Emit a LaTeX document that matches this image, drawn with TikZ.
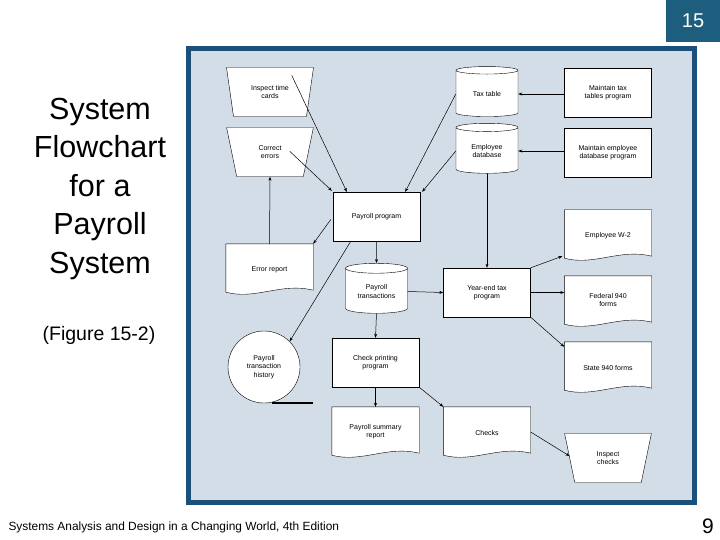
\documentclass[tikz,border=0pt]{standalone}
\usepackage{fontspec}
\setmainfont{Liberation Sans}
\usetikzlibrary{shapes.geometric,arrows.meta,calc}
\definecolor{frame}{HTML}{1B4F7C}
\definecolor{panel}{HTML}{D3DDE8}
\definecolor{tabc}{HTML}{1D5E7E}
\tikzset{
  x=1pt,y=-1pt,
  lbl/.style={font=\fontsize{7}{8.2}\selectfont,align=center},
  proc/.style={lbl,draw,fill=white,rectangle,minimum width=87,minimum height=49,inner sep=1pt},
  doc/.style={lbl,rectangle,minimum width=87,minimum height=52,inner sep=1pt},
  db/.style={lbl,draw,fill=white,cylinder,shape border rotate=90,aspect=0.25,minimum width=62,minimum height=50,inner sep=1pt},
  man/.style={lbl,draw,fill=white,trapezium,shape border rotate=180,trapezium left angle=76,trapezium right angle=76,trapezium stretches=true,minimum width=87,minimum height=49,inner sep=1pt},
  arr/.style={-{Stealth[length=4pt,width=3pt]},line width=0.5pt},
}
\newcommand\docout[1]{%
  \fill[white,draw=black] (#1.north west) -- (#1.north east) -- ($(#1.south east)+(0,-6)$)
    .. controls ($(#1.south)+(12,-14)$) and ($(#1.south)+(-14,4)$) .. ($(#1.south west)+(0,-4)$) -- cycle;}
\begin{document}
\begin{tikzpicture}
\useasboundingbox (0,0) rectangle (720,540);
\fill[white] (0,0) rectangle (720,540);
% tab and side texts
\fill[tabc] (666,0) rectangle (720,42);
\node[text=white,font=\fontsize{20}{24}\selectfont] (num) at (693,21) {15};
\node[align=center,font=\fontsize{30.5}{38.5}\selectfont] (title) at (100,189) {System\\Flowchart\\for a\\Payroll\\System};
\node[font=\fontsize{19.5}{22}\selectfont] (fig) at (99,335) {(Figure 15-2)};
\node[anchor=west,font=\fontsize{11.9}{14}\selectfont] (foot) at (5,527) {Systems Analysis and Design in a Changing World, 4th Edition};
\node[font=\fontsize{21}{24}\selectfont] (page) at (708,526) {9};
% panel
\fill[frame] (186,46) rectangle (697,505);
\fill[panel] (191,51) rectangle (692,500);
% nodes
\node[man] (itc) at (270,92) {Inspect time\\cards};
\node[man] (ce) at (270,152) {Correct\\errors};
\node[db] (tax) at (487,94) {Tax table};
\node[db] (emp) at (487,151) {Employee\\database};
\node[proc] (mtt) at (608,93) {Maintain tax\\tables program};
\node[proc] (med) at (608,153) {Maintain employee\\database program};
\node[proc] (pp) at (376.5,216.5) {Payroll program};
\node[doc] (er) at (269.5,270) {}; \docout{er}
\node[lbl] at (269.5,270) {Error report};
\node[doc] (w2) at (608,236) {}; \docout{w2}
\node[lbl] at (608,236) {Employee W-2};
\node[proc] (ye) at (487,292.5) {Year-end tax\\program};
\node[db] (pt) at (376.5,291.5) {Payroll\\transactions};
\node[doc] (fed) at (608,302) {}; \docout{fed}
\node[lbl] at (608,300) {Federal 940\\forms};
\node[proc] (cp) at (375.5,362.5) {Check printing\\program};
\node[doc] (st) at (608,368) {}; \docout{st}
\node[lbl] at (608,368) {State 940 forms};
\node[lbl,draw,fill=white,circle,minimum size=72] (hist) at (264,367) {Payroll\\transaction\\history};
\coordinate (hl) at (272,403);
\coordinate (hr) at (313,403);
\draw[line width=1.3pt] (hl) -- (hr);
\node[doc] (ps) at (375.5,433) {}; \docout{ps}
\node[lbl] at (375.5,432) {Payroll summary\\report};
\node[doc] (chk) at (487,433) {}; \docout{chk}
\node[lbl] at (487,433) {Checks};
\node[man] (ic) at (608,458) {Inspect\\checks};
% connectors
\draw[arr] ($(itc.north east)+(-3,8)$) -- ($(pp.north west)+(14,0)$);
\draw[arr] ($(ce.north east)+(-5,24)$) -- ($(pp.north west)+(-1,-1)$);
\draw[arr] (tax.west) -- ($(pp.north east)+(-15,0)$);
\draw[arr] (emp.west) -- ($(pp.north east)+(2,0)$);
\draw[arr] (mtt.west |- tax.east) -- (tax.east);
\draw[arr] (med.west |- emp.east) -- (emp.east);
\draw[arr] (emp.south) -- (ye.north);
\draw[arr] ($(pp.west)+(-2,3)$) -- (er.north east);
\draw[arr] (er.north) -- (ce.south);
\draw[arr] ($(pp.south west)+(18,0)$) -- (hist.north east);
\draw[arr] (pp.south) -- (pt.north);
\draw[arr] (pt.east) -- (ye.west);
\draw[arr] (ye.north east) -- ($(w2.south west)+(-2,-6)$);
\draw[arr] (ye.east) -- (ye.east -| fed.west);
\draw[arr] (ye.south east) -- ($(st.north west)+(0,5)$);
\draw[arr] (pt.south) -- (cp.north);
\draw[arr] (cp.south) -- (ps.north);
\draw[arr] (cp.south east) -- (chk.north west);
\draw[arr] ($(chk.east)+(0,-1)$) -- ($(ic.west)+(0,-2)$);
\end{tikzpicture}
\end{document}
